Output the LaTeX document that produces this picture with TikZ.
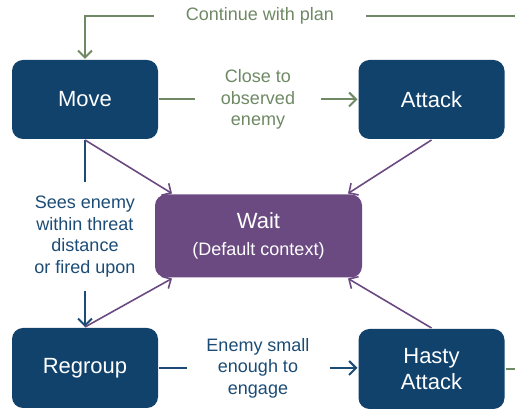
\documentclass[tikz,border=0pt]{standalone}
\usepackage{fontspec}
\setmainfont{Liberation Sans}
\usetikzlibrary{arrows.meta}
\definecolor{boxblue}{RGB}{16,66,108}
\definecolor{waitpurple}{RGB}{107,74,130}
\definecolor{planGreen}{RGB}{110,137,100}
\definecolor{textblue}{RGB}{28,76,118}
\tikzset{
    state/.style={rectangle, rounded corners=11pt, fill=boxblue, text=white,
        minimum width=146pt, minimum height=79pt, align=center,
        font=\fontsize{22}{26}\selectfont},
    cond/.style={align=center, font=\fontsize{18}{21.6}\selectfont, inner sep=0pt},
    tip/.style={-{Straight Barb[length=7pt,width=14pt]}},
}
\begin{document}
\begin{tikzpicture}[x=1pt, y=1pt, line width=2pt]
    \useasboundingbox (0,0) rectangle (515,409);
    \node[state] (move) at (85,309.5) {Move};
    \node[state] (attack) at (431.5,309.5) {Attack};
    \node[state, minimum height=80pt] (regroup) at (85,41) {Regroup};
    \node[state, minimum height=80pt] (hasty) at (431.5,40) {Hasty\\Attack};
    \node[state, fill=waitpurple, minimum width=207pt, minimum height=83pt]
        (wait) at (258.5,173)
        {Wait\\[1pt] {\fontsize{18}{20}\selectfont (Default context)}};
    % labels
    \node[cond, text=planGreen, minimum width=210pt] (cont) at (260,393) {Continue with plan};
    \node[cond, text=planGreen, minimum width=124pt] (close) at (258,309.5) {Close to\\observed\\enemy};
    \node[cond, text=textblue, minimum height=107pt] (sees) at (85,172.5) {Sees enemy\\within threat\\distance\\or fired upon};
    \node[cond, text=textblue, minimum width=141pt] (small) at (258,41) {Enemy small\\enough to\\engage};
    % green
    \draw[planGreen, tip] (cont.west) -| (move.north);
    \draw[planGreen] (hasty.east) -- ++(40,0) |- (cont.east);
    \draw[planGreen] (move.east) -- (close.west);
    \draw[planGreen, tip] (close.east) -- (attack.west);
    % blue
    \draw[textblue] (move.south) -- (sees.north);
    \draw[textblue, tip] (sees.south) -- (regroup.north);
    \draw[textblue] (regroup.east) -- (small.west);
    \draw[textblue, tip] (small.east) -- ([yshift=1pt]hasty.west);
    % purple
    \draw[waitpurple, tip, line width=1.6pt] (move.south) -- ([xshift=18pt]wait.north west);
    \draw[waitpurple, tip, line width=1.6pt] (attack.south) -- ([xshift=-15pt]wait.north east);
    \draw[waitpurple, tip, line width=1.6pt] (regroup.north) -- ([xshift=18pt]wait.south west);
    \draw[waitpurple, tip, line width=1.6pt] (hasty.north) -- ([xshift=-15pt]wait.south east);
\end{tikzpicture}
\end{document}
